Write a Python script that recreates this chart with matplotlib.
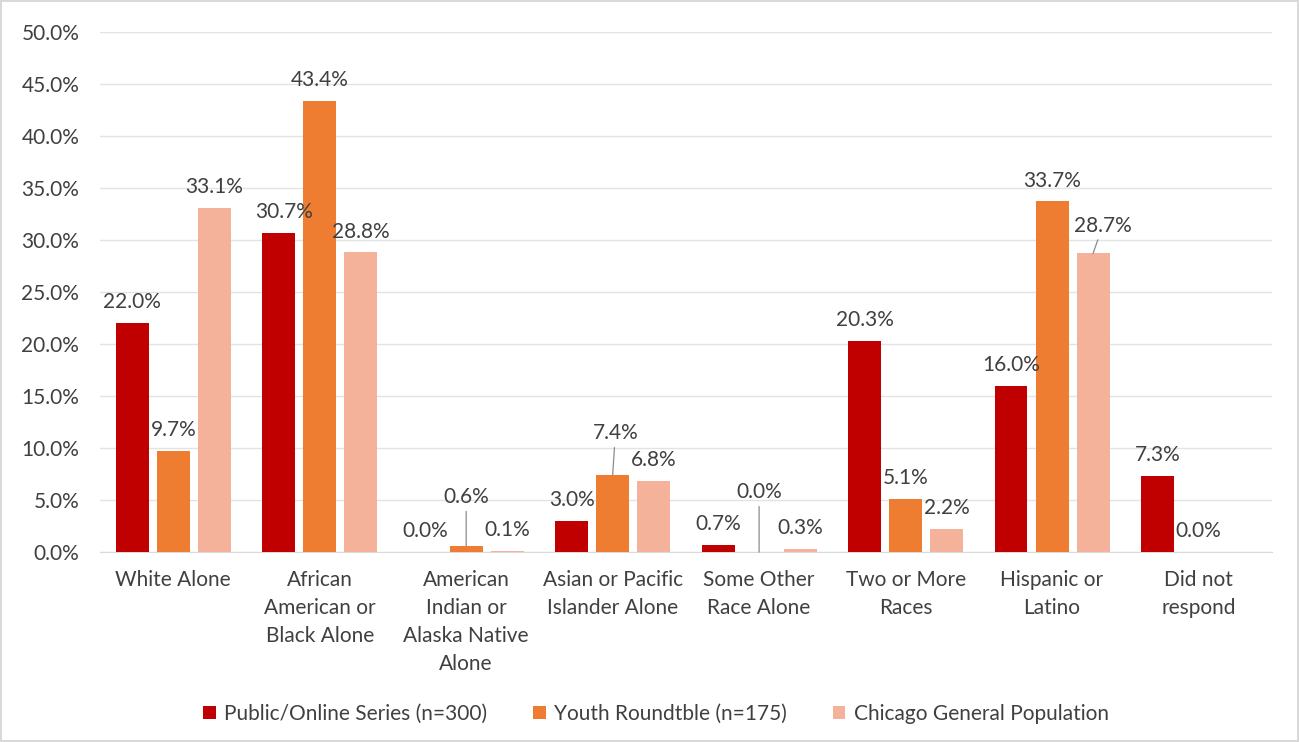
import numpy as np
import matplotlib
matplotlib.use("Agg")
import matplotlib.pyplot as plt
from matplotlib.ticker import PercentFormatter

categories = ["White Alone", "African\nAmerican or\nBlack Alone",
              "American\nIndian or\nAlaska Native\nAlone",
              "Asian or Pacific\nIslander Alone", "Some Other\nRace Alone",
              "Two or More\nRaces", "Hispanic or\nLatino", "Did not\nrespond"]
series_names = ["Public/Online Series (n=300)", "Youth Roundtble (n=175)",
                "Chicago General Population"]
public_online = [22.0, 30.7, 0.0, 3.0, 0.7, 20.3, 16.0, 7.3]
youth_roundtable = [9.7, 43.4, 0.6, 7.4, 0.0, 5.1, 33.7, 0.0]
chicago_pop = [33.1, 28.8, 0.1, 6.8, 0.3, 2.2, 28.7, None]

colors = ["#C00000", "#EE7D31", "#F4B29B"]
text_col = "#404040"
fs = 15

plt.rcParams['font.family'] = ['Lato', 'DejaVu Sans']

fig = plt.figure(figsize=(12.99, 7.42), dpi=100, edgecolor="#D9D9D9", linewidth=1.5)
ax = fig.add_axes([0.077, 0.256, 0.902, 0.701])

x = np.arange(len(categories))
width = 0.225
step = 0.28

# label offsets in points (dx, dy) and whether to draw a leader line
special = {
    (1, 2): (0, 35, True),
    (1, 3): (2, 30, True),
    (1, 4): (0, 43, True),
    (2, 6): (7, 20, True),
    (0, 1): (4, 15, False),
}

for s, vals in enumerate([public_online, youth_roundtable, chicago_pop]):
    xs = x + (s - 1) * step
    v = np.array([np.nan if a is None else a for a in vals], dtype=float)
    ax.bar(xs, v, width, color=colors[s], label=series_names[s], zorder=3)
    for i, val in enumerate(vals):
        if val is None:
            continue
        dx, dy, lead = special.get((s, i), (0, 15, False))
        kw = {}
        if lead:
            kw["arrowprops"] = dict(arrowstyle="-", color="#8C8C8C", lw=0.9,
                                    shrinkA=1, shrinkB=0)
        ax.annotate(f"{val:.1f}%", xy=(xs[i], val), xytext=(dx, dy),
                    textcoords="offset points", ha="center", va="center",
                    fontsize=fs, color=text_col, zorder=4, **kw)

ax.set_ylim(0, 50)
ax.set_xlim(-0.5, len(categories) - 0.5)
ax.set_yticks(np.arange(0, 51, 5))
ax.yaxis.set_major_formatter(PercentFormatter(decimals=1))
ax.set_xticks(x)
ax.set_xticklabels(categories, linespacing=1.5)
ax.tick_params(axis="both", length=0, labelsize=fs, labelcolor=text_col)
ax.tick_params(axis="x", pad=13)
ax.tick_params(axis="y", pad=15)
ax.grid(axis="y", color="#E3E3E3", lw=1, zorder=0)
for sp in ["top", "right", "left"]:
    ax.spines[sp].set_visible(False)
ax.spines["bottom"].set_color("#D9D9D9")

fig.legend(loc="center", bbox_to_anchor=(0.505, 0.038), ncol=3, frameon=False,
           fontsize=fs, handlelength=0.6, handleheight=0.6, handletextpad=0.4,
           columnspacing=2.2, labelcolor=text_col)

fig.savefig("out.png", dpi=100, edgecolor=fig.get_edgecolor())
